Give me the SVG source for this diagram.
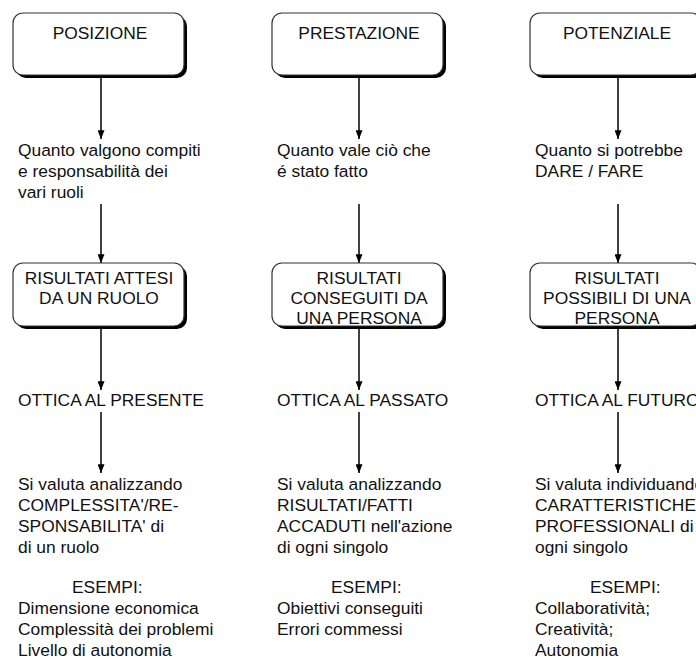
<svg xmlns="http://www.w3.org/2000/svg" width="696" height="659" viewBox="0 0 696 659">
<style>
text{font-family:"Liberation Sans",Arial,sans-serif;font-size:17.4px;fill:#111}
.c{text-anchor:middle}
.sh{fill:#000}
.bx{fill:#fff;stroke:#333;stroke-width:1.2}
.ln{stroke:#000;stroke-width:1.5;fill:none}
</style>
<defs>
<marker id="a" viewBox="0 0 10 8" refX="10" refY="4" markerWidth="9" markerHeight="7" markerUnits="userSpaceOnUse" orient="auto">
<path d="M0,0 L10,4 L0,8 z" fill="#000"/>
</marker>
</defs>
<rect width="696" height="659" fill="#fff"/>

<g id="connectors">
<line class="ln" x1="101" y1="77" x2="101" y2="139" marker-end="url(#a)"/>
<line class="ln" x1="101" y1="204" x2="101" y2="263" marker-end="url(#a)"/>
<line class="ln" x1="101" y1="329" x2="101" y2="390" marker-end="url(#a)"/>
<line class="ln" x1="101" y1="412" x2="101" y2="473" marker-end="url(#a)"/>
<line class="ln" x1="359" y1="77" x2="359" y2="139" marker-end="url(#a)"/>
<line class="ln" x1="359" y1="204" x2="359" y2="263" marker-end="url(#a)"/>
<line class="ln" x1="359" y1="329" x2="359" y2="390" marker-end="url(#a)"/>
<line class="ln" x1="359" y1="412" x2="359" y2="473" marker-end="url(#a)"/>
<line class="ln" x1="618" y1="77" x2="618" y2="139" marker-end="url(#a)"/>
<line class="ln" x1="618" y1="204" x2="618" y2="263" marker-end="url(#a)"/>
<line class="ln" x1="618" y1="329" x2="618" y2="390" marker-end="url(#a)"/>
<line class="ln" x1="618" y1="412" x2="618" y2="473" marker-end="url(#a)"/>
</g>

<g id="posizione">
<rect class="sh" x="16" y="16" width="171" height="62" rx="10"/>
<rect class="bx" x="13" y="13" width="171" height="62" rx="10"/>
<text class="c" x="100" y="39">POSIZIONE</text>
</g>
<g id="prestazione">
<rect class="sh" x="275" y="16" width="171" height="62" rx="10"/>
<rect class="bx" x="272" y="13" width="171" height="62" rx="10"/>
<text class="c" x="359" y="39">PRESTAZIONE</text>
</g>
<g id="potenziale">
<rect class="sh" x="533" y="16" width="171" height="62" rx="10"/>
<rect class="bx" x="530" y="13" width="171" height="62" rx="10"/>
<text class="c" x="617" y="39">POTENZIALE</text>
</g>

<g id="valore-posizione">
<text x="18" y="156">Quanto valgono compiti</text>
<text x="18" y="177">e responsabilità dei</text>
<text x="18" y="198">vari ruoli</text>
</g>
<g id="valore-prestazione">
<text x="277" y="156">Quanto vale ciò che</text>
<text x="277" y="177">é stato fatto</text>
</g>
<g id="valore-potenziale">
<text x="535" y="156">Quanto si potrebbe</text>
<text x="535" y="177">DARE / FARE</text>
</g>

<g id="risultati-attesi">
<rect class="sh" x="16" y="266" width="171" height="63" rx="10"/>
<rect class="bx" x="13" y="263" width="171" height="63" rx="10"/>
<text class="c" x="99" y="284">RISULTATI ATTESI</text>
<text class="c" x="99" y="304">DA UN RUOLO</text>
</g>
<g id="risultati-conseguiti">
<rect class="sh" x="275" y="266" width="171" height="63" rx="10"/>
<rect class="bx" x="272" y="263" width="171" height="63" rx="10"/>
<text class="c" x="359" y="284">RISULTATI</text>
<text class="c" x="359" y="304">CONSEGUITI DA</text>
<text class="c" x="359" y="324">UNA PERSONA</text>
</g>
<g id="risultati-possibili">
<rect class="sh" x="533" y="266" width="171" height="63" rx="10"/>
<rect class="bx" x="530" y="263" width="171" height="63" rx="10"/>
<text class="c" x="617" y="284">RISULTATI</text>
<text class="c" x="617" y="304">POSSIBILI DI UNA</text>
<text class="c" x="617" y="324">PERSONA</text>
</g>

<g id="ottica-presente"><text x="18" y="406">OTTICA AL PRESENTE</text></g>
<g id="ottica-passato"><text x="277" y="406">OTTICA AL PASSATO</text></g>
<g id="ottica-futuro"><text x="535" y="406">OTTICA AL FUTURO</text></g>

<g id="valutazione-posizione">
<text x="18" y="490">Si valuta analizzando</text>
<text x="18" y="511">COMPLESSITA'/RE-</text>
<text x="18" y="532">SPONSABILITA' di</text>
<text x="18" y="553">di un ruolo</text>
<text x="72" y="593">ESEMPI:</text>
<text x="18" y="614">Dimensione economica</text>
<text x="18" y="635">Complessità dei problemi</text>
<text x="18" y="656">Livello di autonomia</text>
</g>
<g id="valutazione-prestazione">
<text x="277" y="490">Si valuta analizzando</text>
<text x="277" y="511">RISULTATI/FATTI</text>
<text x="277" y="532">ACCADUTI nell'azione</text>
<text x="277" y="553">di ogni singolo</text>
<text x="331" y="593">ESEMPI:</text>
<text x="277" y="614">Obiettivi conseguiti</text>
<text x="277" y="635">Errori commessi</text>
</g>
<g id="valutazione-potenziale">
<text x="535" y="490">Si valuta individuando</text>
<text x="535" y="511">CARATTERISTICHE</text>
<text x="535" y="532">PROFESSIONALI di</text>
<text x="535" y="553">ogni singolo</text>
<text x="590" y="593">ESEMPI:</text>
<text x="535" y="614">Collaboratività;</text>
<text x="535" y="635">Creatività;</text>
<text x="535" y="656">Autonomia</text>
</g>
</svg>
